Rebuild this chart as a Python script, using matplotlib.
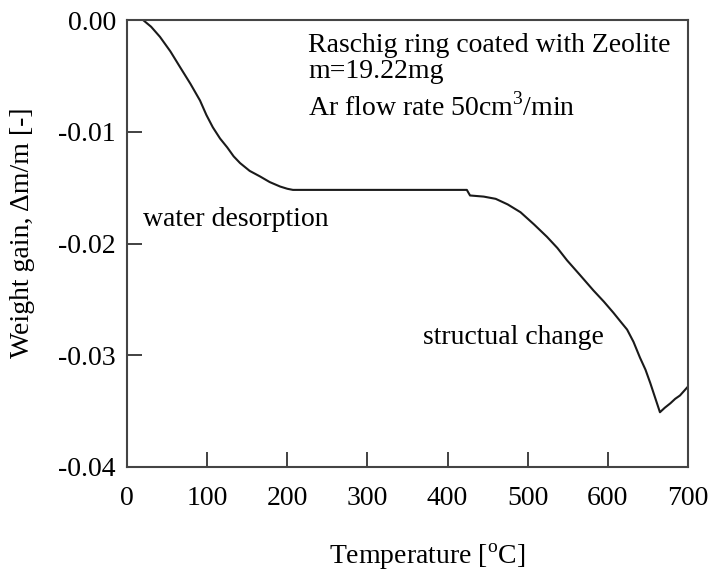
import matplotlib
matplotlib.use("Agg")
import matplotlib.pyplot as plt

plt.rcParams['font.family'] = ['Liberation Serif', 'DejaVu Serif']
plt.rcParams['mathtext.fontset'] = 'custom'
plt.rcParams['mathtext.rm'] = 'Liberation Serif'

temperature = [20, 30, 41, 54, 66, 79, 91, 99, 107, 116, 125, 133, 141, 153, 166, 178, 191, 200, 207,
               250, 300, 350, 400, 424, 428, 445, 460, 475, 491, 508, 524, 537, 549, 565, 582, 595,
               607, 616, 624, 632, 640, 647, 653, 659, 665, 671, 678, 684, 690, 695, 700]
weight = [0.0, -0.0006, -0.0015, -0.0028, -0.0042, -0.0057, -0.0072, -0.0085, -0.0096, -0.0106,
          -0.0114, -0.0122, -0.0128, -0.0135, -0.0140, -0.0145, -0.0149, -0.0151, -0.0152,
          -0.0152, -0.0152, -0.0152, -0.0152, -0.0152, -0.0157, -0.0158, -0.0160, -0.0165,
          -0.0172, -0.0183, -0.0194, -0.0204, -0.0215, -0.0228, -0.0242, -0.0252, -0.0262,
          -0.0270, -0.0277, -0.0288, -0.0302, -0.0313, -0.0325, -0.0338, -0.0351, -0.0347,
          -0.0343, -0.0339, -0.0336, -0.0332, -0.0328]

xticks = [0, 100, 200, 300, 400, 500, 600, 700]
yticks = [0.00, -0.01, -0.02, -0.03, -0.04]
ytick_labels = ['0.00', '-0.01', '-0.02', '-0.03', '-0.04']

fig = plt.figure(figsize=(7.10, 5.73), dpi=100)
ax = fig.add_axes([0.179, 0.185, 0.790, 0.780])

ax.plot(temperature, weight, color='#1a1a1a', lw=1.5)

ax.set_xlim(0, 700)
ax.set_ylim(-0.04, 0.0)
ax.set_xticks(xticks)
ax.set_yticks(yticks)
ax.set_yticklabels(ytick_labels)
ax.tick_params(direction='in', length=11, width=1.3, color='#333333', labelsize=20,
               top=False, right=False)
ax.tick_params(axis='y', pad=8)
ax.tick_params(axis='x', pad=14)
for s in ax.spines.values():
    s.set_linewidth(1.5)
    s.set_color('#444444')

ax.set_xlabel('Temperature [$^{\\mathrm{o}}$C]', fontsize=20)
ax.xaxis.set_label_coords(0.535, -0.20)
ax.xaxis.label.set_va('center')
ax.set_ylabel('Weight gain, \u0394m/m [-]', fontsize=20)
ax.yaxis.set_label_coords(-0.187, 0.523)
ax.yaxis.label.set_va('center')

fs = 20
ax.text(0.323, 0.944, 'Raschig ring coated with Zeolite', transform=ax.transAxes,
        fontsize=fs, va='center', ha='left')
ax.text(0.323, 0.886, 'm=19.22mg', transform=ax.transAxes,
        fontsize=fs, va='center', ha='left')
ax.text(0.323, 0.805, 'Ar flow rate 50cm$^{\\mathrm{3}}$/min', transform=ax.transAxes,
        fontsize=fs, va='center', ha='left')
ax.text(0.029, 0.553, 'water desorption', transform=ax.transAxes,
        fontsize=fs, va='center', ha='left')
ax.text(0.528, 0.289, 'structual change', transform=ax.transAxes,
        fontsize=fs, va='center', ha='left')

fig.savefig('out.png', dpi=100)
